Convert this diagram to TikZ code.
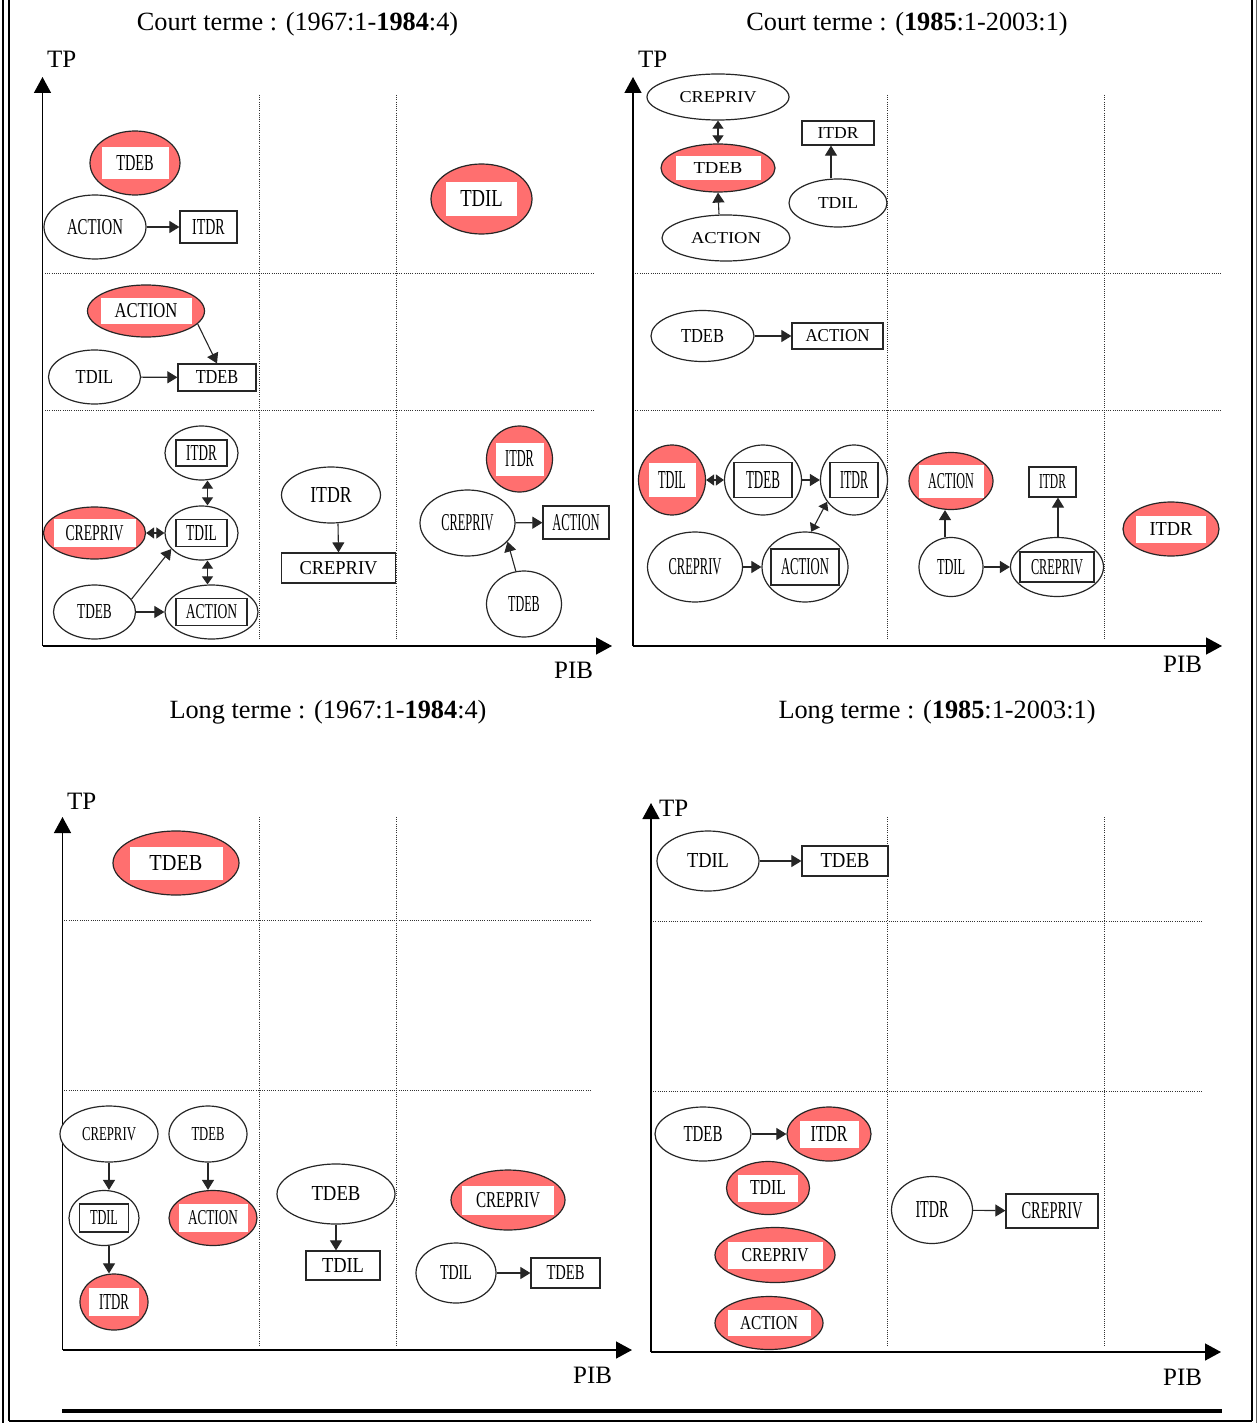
\documentclass[tikz,border=0pt]{standalone}
\usepackage{fontspec}
\setmainfont{Liberation Serif}
\usepackage{graphicx}
\usetikzlibrary{shapes.geometric,arrows.meta}
% label text fitted to a given width and cap height
\newcommand\lb[3]{\resizebox{#1pt}{#2pt}{#3}}
\definecolor{salmon}{RGB}{255,111,111}
\begin{document}
\begin{tikzpicture}[x=1pt,y=-1pt,
  ov/.style 2 args={ellipse, draw=black!85, line width=1.2pt, fill=white,
    minimum width=#1pt, minimum height=#2pt, inner sep=0pt},
  rd/.style={fill=salmon},
  bx/.style 2 args={rectangle, draw=black!85, line width=1.2pt, fill=white,
    minimum width=#1pt, minimum height=#2pt, inner sep=0pt},
  wb/.style 2 args={rectangle, fill=white,
    minimum width=#1pt, minimum height=#2pt, inner sep=0pt},
  arr/.style={line width=1.1pt, draw=black!85, -{Triangle[length=10pt,width=12pt]}},
  darr/.style={line width=1.1pt, draw=black!85,
    {Triangle[length=8pt,width=11pt]}-{Triangle[length=8pt,width=11pt]}},
  axis/.style={line width=1.4pt, -{Triangle[length=16pt,width=17pt]}},
  grid/.style={black!80, line width=0.9pt, dash pattern=on 1pt off 1.2pt},
  ttl/.style={anchor=base, inner sep=0pt, font=\fontsize{26.3}{30}\selectfont},
  axl/.style={anchor=base west, inner sep=0pt, font=\fontsize{25}{28}\selectfont},
]
\useasboundingbox (0,0) rectangle (1257,1423);
\fill[white] (0,0) rectangle (1257,1423);

% ---------- page frame ----------
\draw[line width=2pt] (3,0) -- (3,1423);
\draw[line width=2pt] (8.5,0) -- (8.5,1421);
\draw[line width=1.5pt] (8.5,1421) -- (1252,1421);
\draw[line width=2.5pt] (1252,0) -- (1252,1421);
\draw[line width=1pt, black!60] (1256.3,0) -- (1256.3,1423);
\draw[line width=4pt] (62,1411) -- (1222,1411);

% ---------- titles ----------
\node[ttl] (t1) at (297.5,31) {Court terme : (1967:1-\textbf{1984}:4)};
\node[ttl] (t2) at (907,31) {Court terme : (\textbf{1985}:1-2003:1)};
\node[ttl] (t3) at (328,718) {Long terme : (1967:1-\textbf{1984}:4)};
\node[ttl] (t4) at (937,718) {Long terme : (\textbf{1985}:1-2003:1)};

% ---------- grids ----------
\foreach \gx in {259,396} \draw[grid] (\gx,95) -- (\gx,640);
\foreach \gy in {273,410} \draw[grid] (45,\gy) -- (593,\gy);
\foreach \gx in {887,1104} \draw[grid] (\gx,95) -- (\gx,640);
\foreach \gy in {273,410} \draw[grid] (633,\gy) -- (1221,\gy);
\foreach \gx in {259,396} \draw[grid] (\gx,817) -- (\gx,1346);
\foreach \gy in {920,1090} \draw[grid] (62,\gy) -- (592,\gy);
\foreach \gx in {887,1104} \draw[grid] (\gx,817) -- (\gx,1346);
\foreach \gy in {921,1091} \draw[grid] (651,\gy) -- (1203,\gy);

% ---------- axes ----------
\coordinate (oa) at (42.5,646);  \coordinate (ya) at (42.5,77);  \coordinate (xa) at (612,646);
\coordinate (ob) at (633,646);   \coordinate (yb) at (633,77);   \coordinate (xb) at (1222,646);
\coordinate (oc) at (62.5,1350); \coordinate (yc) at (62.5,817); \coordinate (xc) at (632,1350);
\coordinate (od) at (651,1352);  \coordinate (yd) at (651,803);  \coordinate (xd) at (1221,1352);
\foreach \p in {a,b,c,d} {
  \draw[axis] (o\p) -- (y\p);
  \draw[axis] (o\p) -- (x\p);
}
\node[axl] (tpa) at (47,68) {TP};
\node[axl] (pba) at (554,678) {PIB};
\node[axl] (tpb) at (638,68) {TP};
\node[axl] (pbb) at (1163,672) {PIB};
\node[axl] (tpc) at (67,809) {TP};
\node[axl] (pbc) at (573,1383) {PIB};
\node[axl] (tpd) at (659,816) {TP};
\node[axl] (pbd) at (1163,1385) {PIB};

% ================= Court terme 1967-1984 =================
\node[ov={90}{64},rd] (a11) at (135,163) {};
\node[wb={67}{32}] at (a11) {\lb{37.5}{15}{TDEB}};
\node[ov={102}{64}] (a12) at (95,227) {\lb{56}{15}{ACTION}};
\node[bx={57}{32}] (a13) at (208.5,227) {\lb{32.6}{15}{ITDR}};
\draw[arr] (a12) -- (a13);
\node[ov={101}{70},rd] (a14) at (481.5,199) {};
\node[wb={71}{34}] at (a14) {\lb{42.5}{16}{TDIL}};

\node[ov={117}{52},rd] (a21) at (146,311) {};
\node[wb={91}{26}] at (a21) {\lb{63}{14}{ACTION}};
\node[ov={92}{54}] (a22) at (94.5,377) {\lb{37.5}{13}{TDIL}};
\node[bx={78}{27}] (a23) at (217,377.5) {\lb{42.5}{13}{TDEB}};
\draw[arr] (a21.-14) -- (a23.north);
\draw[arr] (a22) -- (a23);

\node[ov={73}{54}] (a31) at (201.5,453) {};
\node[bx={51}{26}] at (a31) {\lb{30.6}{15}{ITDR}};
\node[ov={73}{54}] (a32) at (201.5,533) {};
\node[bx={51}{27}] at (a32) {\lb{30.6}{15}{TDIL}};
\node[ov={102}{52},rd] (a33) at (94.5,533) {};
\node[wb={82}{28}] at (a33) {\lb{58}{15}{CREPRIV}};
\node[ov={82}{54}] (a34) at (94.5,612) {\lb{34.6}{14}{TDEB}};
\node[ov={93}{54}] (a35) at (211.5,612) {};
\node[bx={71}{27}] at (a35) {\lb{51.4}{14}{ACTION}};
\draw[darr] ([xshift=6pt]a31.south) -- ([xshift=6pt]a32.north);
\draw[darr] (a33) -- (a32);
\draw[darr] ([xshift=6pt]a32.south) -- ([xshift=-4pt]a35.north);
\draw[arr] (a34.19) -- (a32.208);
\draw[arr] (a34) -- (a35);

\node[ov={99}{56}] (a36) at (331,495) {\lb{41.5}{15}{ITDR}};
\node[bx={114}{30}] (a37) at (338.5,568) {\lb{78}{13}{CREPRIV}};
\draw[arr] ([xshift=7pt]a36.south) -- (a37.north);

\node[ov={66}{66},rd] (a38) at (519.5,459) {};
\node[wb={48}{33}] at (a38) {\lb{28.7}{16}{ITDR}};
\node[ov={95}{66}] (a39) at (467.5,523) {\lb{52.4}{16}{CREPRIV}};
\node[bx={66}{33}] (a3a) at (576,522.5) {\lb{47.4}{16}{ACTION}};
\node[ov={75}{66}] (a3b) at (524,604) {\lb{31.6}{15}{TDEB}};
\draw[arr] (a39) -- (a3a);
\draw[arr] (a3b.104) -- (a39.-25);

% ================= Court terme 1985-2003 =================
\node[ov={142}{46}] (b11) at (718,97) {\lb{77}{11}{CREPRIV}};
\node[ov={114}{48},rd] (b12) at (718,168) {};
\node[wb={85}{24}] at (b12) {\lb{49}{11}{TDEB}};
\node[ov={128}{46}] (b13) at (726,238) {\lb{70}{11}{ACTION}};
\node[bx={72}{24}] (b14) at (838,133) {\lb{41}{11}{ITDR}};
\node[ov={98}{48}] (b15) at (838,203) {\lb{40}{11}{TDIL}};
\draw[darr] (b11.south) -- (b12.north);
\draw[arr] ([xshift=-7pt]b13.north) -- (b12.south);
\draw[arr] ([xshift=-7pt]b15.north) -- ([xshift=-7pt]b14.south);

\node[ov={103}{51}] (b21) at (702.5,336) {\lb{43}{13}{TDEB}};
\node[bx={91}{26}] (b22) at (837.5,336) {\lb{64}{12}{ACTION}};
\draw[arr] (b21) -- (b22);

\node[ov={67}{70},rd] (b31) at (672,480) {};
\node[wb={47}{34}] at (b31) {\lb{28}{17}{TDIL}};
\node[ov={77}{70}] (b32) at (763,480) {};
\node[bx={58}{35}] at (b32) {\lb{34}{17}{TDEB}};
\node[ov={67}{70}] (b33) at (854,480) {};
\node[bx={48}{35}] at (b33) {\lb{28}{17}{ITDR}};
\node[ov={95}{70}] (b34) at (695,567) {\lb{53}{16}{CREPRIV}};
\node[ov={86}{70}] (b35) at (805,567) {};
\node[bx={68}{36}] at (b35) {\lb{48}{16}{ACTION}};
\draw[darr] (b31) -- (b32);
\draw[arr] (b32) -- (b33);
\draw[arr] (b34) -- (b35);
\draw[darr] (b35.80) -- (b33.219);

\node[ov={84}{57},rd] (b36) at (951,481) {};
\node[wb={65}{33}] at (b36) {\lb{46}{15}{ACTION}};
\node[ov={64}{59}] (b37) at (951,567) {\lb{28}{15}{TDIL}};
\node[ov={93}{59}] (b38) at (1057,567) {};
\node[bx={74}{30}] at (b38) {\lb{52}{15}{CREPRIV}};
\node[bx={47}{30}] (b39) at (1052.5,482) {\lb{27}{14}{ITDR}};
\draw[arr] ([xshift=-6pt]b37.north) -- ([xshift=-6pt]b36.south);
\draw[arr] (b37) -- (b38);
\draw[arr] ([xshift=1pt]b38.north) -- ([xshift=5.5pt]b39.south);

\node[ov={96}{54},rd] (b3a) at (1171,529) {};
\node[wb={70}{27}] at (b3a) {\lb{43}{13}{ITDR}};

% ================= Long terme 1967-1984 =================
\node[ov={126}{64},rd] (c11) at (176,863) {};
\node[wb={93}{33}] at (c11) {\lb{53}{15}{TDEB}};

\node[ov={98}{56}] (c31) at (109,1134) {\lb{54}{13}{CREPRIV}};
\node[ov={78}{56}] (c32) at (208,1134) {\lb{33}{13}{TDEB}};
\node[ov={70}{55}] (c33) at (104,1218) {};
\node[bx={49}{28}] at (c33) {\lb{28}{14}{TDIL}};
\node[ov={88}{55},rd] (c34) at (213,1218) {};
\node[wb={69}{28}] at (c34) {\lb{50}{14}{ACTION}};
\node[ov={68}{56},rd] (c35) at (114,1302) {};
\node[wb={50}{28}] at (c35) {\lb{30}{15}{ITDR}};
\draw[arr] (c31.south) -- ([xshift=5pt]c33.north);
\draw[arr] (c32.south) -- ([xshift=-5pt]c34.north);
\draw[arr] ([xshift=5pt]c33.south) -- ([xshift=-5pt]c35.north);

\node[ov={118}{60}] (c36) at (336,1194) {\lb{49}{14}{TDEB}};
\node[bx={74}{29}] (c37) at (343,1265.5) {\lb{42}{14}{TDIL}};
\draw[arr] (c36.south) -- ([xshift=-7pt]c37.north);

\node[ov={114}{60},rd] (c38) at (508,1200) {};
\node[wb={92}{29}] at (c38) {\lb{64}{15}{CREPRIV}};
\node[ov={80}{60}] (c39) at (456,1273) {\lb{32}{14}{TDIL}};
\node[bx={69}{30}] (c3a) at (565.5,1273) {\lb{38}{14}{TDEB}};
\draw[arr] (c39) -- (c3a);

% ================= Long terme 1985-2003 =================
\node[ov={102}{60}] (d11) at (708,861) {\lb{42}{14}{TDIL}};
\node[bx={86}{30}] (d12) at (845,861) {\lb{49}{14}{TDEB}};
\draw[arr] (d11) -- (d12);

\node[ov={96}{54}] (d31) at (703,1134) {\lb{39}{15}{TDEB}};
\node[ov={84}{54},rd] (d32) at (829,1134) {};
\node[wb={59}{27}] at (d32) {\lb{37}{15}{ITDR}};
\node[ov={83}{53},rd] (d33) at (768,1188) {};
\node[wb={60}{27}] at (d33) {\lb{36}{14}{TDIL}};
\node[ov={120}{55},rd] (d34) at (775,1255) {};
\node[wb={95}{27}] at (d34) {\lb{67}{13}{CREPRIV}};
\node[ov={108}{53},rd] (d35) at (769,1323) {};
\node[wb={83}{26}] at (d35) {\lb{58}{13}{ACTION}};
\draw[arr] (d31) -- (d32);

\node[ov={81}{67}] (d36) at (932,1210) {\lb{33}{16}{ITDR}};
\node[bx={92}{34}] (d37) at (1052,1211) {\lb{61}{16}{CREPRIV}};
\draw[arr] (d36) -- (d37);

\end{tikzpicture}
\end{document}
